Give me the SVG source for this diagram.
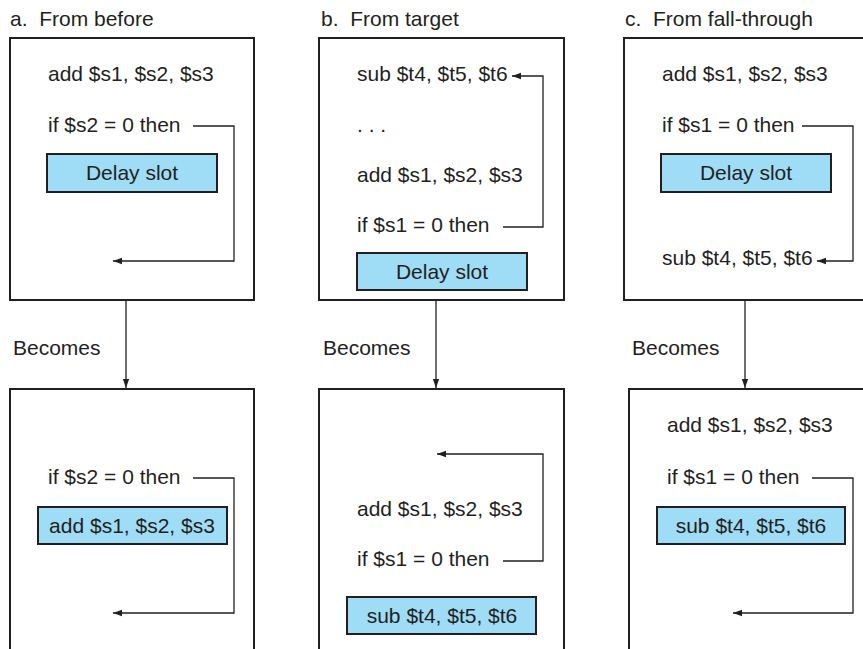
<svg xmlns="http://www.w3.org/2000/svg" width="863" height="649" viewBox="0 0 863 649">
<defs>
<marker id="ah" viewBox="0 0 10 10" refX="10" refY="5" markerWidth="9" markerHeight="9" markerUnits="userSpaceOnUse" orient="auto">
<path d="M0,1.5 L10,5 L0,8.5 Z" fill="#231f20"/>
</marker>
</defs>
<style>
text{font-family:"Liberation Sans",Arial,sans-serif;font-size:21px;fill:#231f20;white-space:pre}
.mid{text-anchor:middle}
.box{fill:#fff;stroke:#231f20;stroke-width:2}
.slot{fill:#9fdcf6;stroke:#231f20;stroke-width:2}
.c{fill:none;stroke:#231f20;stroke-width:1.3}
.ca{fill:none;stroke:#231f20;stroke-width:1.3;marker-end:url(#ah)}
</style>
<rect width="863" height="649" fill="#fff"/>
<g id="titles">
<text x="10" y="26">a.  From before</text>
<text x="321" y="26">b.  From target</text>
<text x="625" y="26">c.  From fall-through</text>
</g>
<g id="panel-a-top">
<rect class="box" x="10" y="38" width="244" height="262"/>
<text x="48" y="81">add $s1, $s2, $s3</text>
<text x="48" y="132">if $s2 = 0 then</text>
<rect class="slot" x="47" y="154" width="170" height="38"/>
<text class="mid" x="132" y="180">Delay slot</text>
</g>
<g id="panel-b-top">
<rect class="box" x="319" y="38" width="245" height="262"/>
<text x="357" y="81">sub $t4, $t5, $t6</text>
<text x="357" y="132">. . .</text>
<text x="357" y="182">add $s1, $s2, $s3</text>
<text x="357" y="232">if $s1 = 0 then</text>
<rect class="slot" x="357" y="253" width="170" height="37"/>
<text class="mid" x="442" y="279">Delay slot</text>
</g>
<g id="panel-c-top">
<rect class="box" x="624" y="38" width="260" height="262"/>
<text x="662" y="81">add $s1, $s2, $s3</text>
<text x="662" y="132">if $s1 = 0 then</text>
<rect class="slot" x="661" y="154" width="170" height="38"/>
<text class="mid" x="746" y="180">Delay slot</text>
<text x="662" y="265">sub $t4, $t5, $t6</text>
</g>
<g id="panel-a-bottom">
<rect class="box" x="10" y="389" width="244" height="280"/>
<text x="48" y="484">if $s2 = 0 then</text>
<rect class="slot" x="38" y="507" width="189" height="37"/>
<text class="mid" x="132" y="533">add $s1, $s2, $s3</text>
</g>
<g id="panel-b-bottom">
<rect class="box" x="319" y="389" width="245" height="280"/>
<text x="357" y="516">add $s1, $s2, $s3</text>
<text x="357" y="566">if $s1 = 0 then</text>
<rect class="slot" x="347" y="597" width="189" height="37"/>
<text class="mid" x="442" y="623">sub $t4, $t5, $t6</text>
</g>
<g id="panel-c-bottom">
<rect class="box" x="629" y="389" width="260" height="280"/>
<text x="667" y="432">add $s1, $s2, $s3</text>
<text x="667" y="484">if $s1 = 0 then</text>
<rect class="slot" x="657" y="507" width="188" height="37"/>
<text class="mid" x="751" y="533">sub $t4, $t5, $t6</text>
</g>
<g id="becomes-labels">
<text x="13" y="355">Becomes</text>
<text x="323" y="355">Becomes</text>
<text x="632" y="355">Becomes</text>
</g>
<g id="connectors">
<path class="ca" d="M126,300 V388"/>
<path class="ca" d="M436,300 V388"/>
<path class="ca" d="M745,300 V388"/>
<path class="ca" d="M193,126 H234 V261 H113"/>
<path class="ca" d="M503,227 H543 V76 H512"/>
<path class="ca" d="M802,126 H853 V261 H817"/>
<path class="ca" d="M193,478 H234 V613 H113"/>
<path class="ca" d="M503,561 H543 V454 H437"/>
<path class="ca" d="M812,478 H853 V613 H733"/>
</g>
</svg>
